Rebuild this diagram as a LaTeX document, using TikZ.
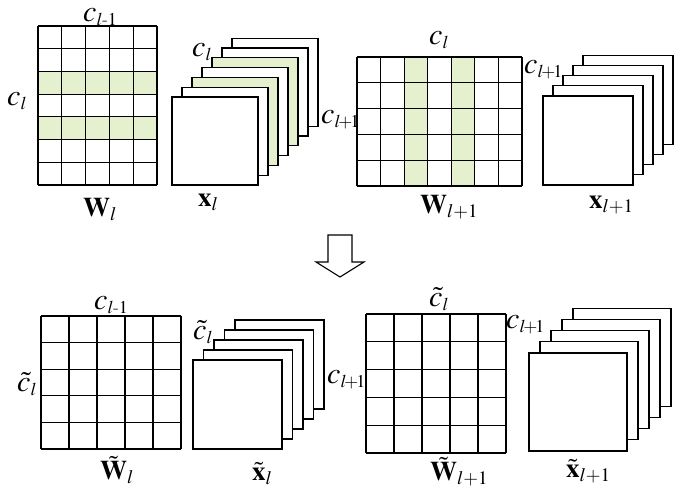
\documentclass[tikz,border=0pt]{standalone}
\usepackage{amsmath}
\usepackage{mathptmx}
\DeclareMathSizes{30}{30}{18}{13}
\DeclareMathSizes{27}{27}{19}{14}
\definecolor{cgreen}{RGB}{229,240,206}
\tikzset{
  gline/.style={line width=1.1pt, black},
  sheet/.style={line width=1.3pt, draw=black},
  lbl/.style={inner sep=0pt, anchor=base west, font=\fontsize{30}{34}\selectfont},
  blbl/.style={inner sep=0pt, anchor=base west, font=\fontsize{27}{31}\selectfont},
}
\begin{document}
\begin{tikzpicture}[x=1pt, y=-1pt]
\useasboundingbox (0,0) rectangle (690,493);
% ---------- top-left grid W_l (5 cols x 7 rows) ----------
\foreach \r in {2,4}
  \fill[cgreen] (38,{26+\r*22.71}) rectangle ++(119,22.71);
\foreach \i in {0,...,5} \draw[gline] ({38+\i*23.8},26) -- ++(0,159);
\foreach \j in {0,...,7} \draw[gline] (38,{26+\j*22.71}) -- ++(119,0);
% ---------- X_l stack (7 sheets) ----------
\foreach \k/\c in {6/white,5/white,4/cgreen,3/white,2/cgreen,1/white,0/white}
  \filldraw[sheet, fill=\c] ({172+10*\k},{97-9.8*\k}) rectangle ++(86,88);
% ---------- top-right grid W_{l+1} (7 cols x 5 rows) ----------
\foreach \q in {2,4}
  \fill[cgreen] ({357+\q*23.57},57) rectangle ++(23.57,129);
\foreach \i in {0,...,7} \draw[gline] ({357+\i*23.57},57) -- ++(0,129);
\foreach \j in {0,...,5} \draw[gline] (357,{57+\j*25.8}) -- ++(165,0);
% ---------- X_{l+1} stack ----------
\foreach \k in {4,...,0}
  \filldraw[sheet, fill=white] ({543+10*\k},{96-10.2*\k}) rectangle ++(90,89);
% ---------- hollow arrow ----------
\draw[line width=1.1pt, line join=miter] (328,235) -- (352,235) -- (352,262) -- (364,262)
  -- (340,277) -- (316,262) -- (328,262) -- cycle;
% ---------- bottom-left grid ----------
\foreach \i in {0,...,5} \draw[gline] ({41+\i*28},316) -- ++(0,133);
\foreach \j in {0,...,5} \draw[gline] (41,{316+\j*26.6}) -- ++(140,0);
% ---------- X~_l stack ----------
\foreach \k in {4,...,0}
  \filldraw[sheet, fill=white] ({193+10.5*\k},{360-10*\k}) rectangle ++(89,89);
% ---------- bottom-right grid ----------
\foreach \i in {0,...,5} \draw[gline] ({366+\i*28},314) -- ++(0,139);
\foreach \j in {0,...,5} \draw[gline] (366,{314+\j*27.8}) -- ++(140,0);
% ---------- X~_{l+1} stack ----------
\foreach \k in {4,...,0}
  \filldraw[sheet, fill=white] ({529+11*\k},{353-11.2*\k}) rectangle ++(98,98);
% ---------- labels ----------
\node[lbl] (t1) at (83,21)  {$c_{l\text{-}1}$};
\node[lbl] (t2) at (7,105)  {$c_l$};
\node[lbl] (t3) at (192,56) {$c_l$};
\node[lbl] (t4) at (321,123) {$c_{l\!+\!1}$};
\node[lbl] (t5) at (429,44) {$c_l$};
\node[lbl] (t6) at (524,73) {$c_{l\!+\!1}$};
\node[blbl] (t7) at (83,216) {$\mathbf{W}_l$};
\node[blbl] (t8) at (198,206) {$\mathbf{x}_l$};
\node[blbl] (t9) at (420,213) {$\mathbf{W}_{l+1}$};
\node[blbl] (t10) at (589,208) {$\mathbf{x}_{l+1}$};
\node[lbl] (b1) at (94,309) {$c_{l\text{-}1}$};
\node[lbl] (b2) at (17,391) {$\tilde{c}_l$};
\node[lbl] (b3) at (193,339) {$\tilde{c}_l$};
\node[blbl] (b4) at (100,479) {$\tilde{\mathbf{W}}_l$};
\node[blbl] (b5) at (252,480) {$\tilde{\mathbf{x}}_l$};
\node[lbl] (b6) at (327,383) {$c_{l\!+\!1}$};
\node[lbl] (b7) at (429,306) {$\tilde{c}_l$};
\node[lbl] (b8) at (506,328) {$c_{l\!+\!1}$};
\node[blbl] (b9) at (430,480) {$\tilde{\mathbf{W}}_{l+1}$};
\node[blbl] (b10) at (566,477) {$\tilde{\mathbf{x}}_{l+1}$};
\end{tikzpicture}
\end{document}
